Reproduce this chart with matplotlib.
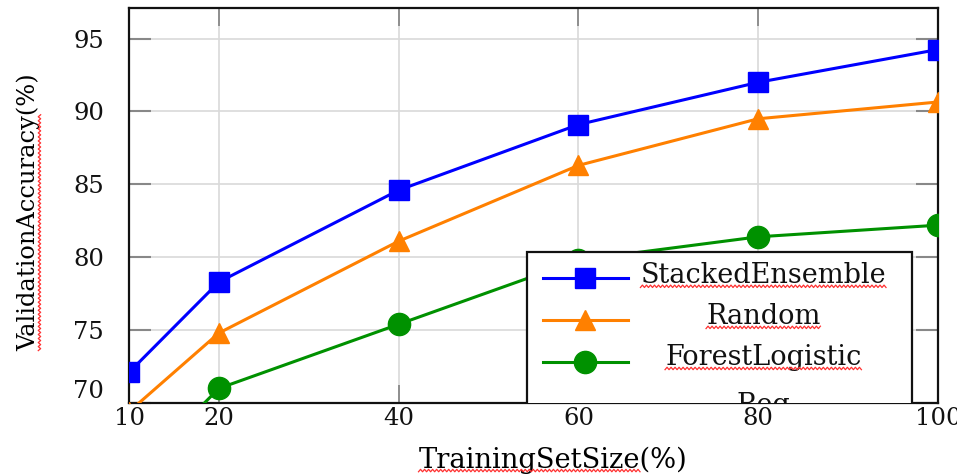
import numpy as np
import matplotlib
matplotlib.use('Agg')
import matplotlib.pyplot as plt
from matplotlib.patches import Rectangle
from matplotlib.lines import Line2D
from matplotlib.transforms import IdentityTransform

# Data
train_size = [10, 20, 40, 60, 80, 100]
stacked_ensemble = [72.1, 78.3, 84.6, 89.1, 92.0, 94.25]
random_forest = [69.4, 74.8, 81.1, 86.3, 89.5, 90.65]
logistic_reg = [64.8, 71.0, 75.4, 79.8, 81.4, 82.2]

x_ticks = [10, 20, 40, 60, 80, 100]
y_ticks = [70, 75, 80, 85, 90, 95]
legend_labels = ['StackedEnsemble', 'Random', 'ForestLogistic', 'Reg']

plt.rcParams['font.family'] = ['DejaVu Serif']
plt.rcParams['text.color'] = '#111111'

fig = plt.figure(figsize=(9.57, 4.75), dpi=100)
ax = fig.add_axes([0.1348, 0.1516, 0.8453, 0.8316])

series = [
    (stacked_ensemble, '#0000ff', 's', 15),
    (random_forest, '#ff8000', '^', 15),
    (logistic_reg, '#009100', 'o', 16),
]
for vals, color, marker, ms in series:
    ax.plot(train_size, vals, color=color, marker=marker, markersize=ms, lw=2.2, zorder=3)

ax.set_xlim(10, 100)
ax.set_ylim(70, 97.1)
ax.set_xticks(x_ticks)
ax.set_yticks(y_ticks)
ax.grid(True, color='#d9d9d9', lw=1.2, zorder=0)
ax.set_axisbelow(True)
ax.tick_params(axis='both', direction='in', labelsize=17.5, colors='#888888',
               labelcolor='#111111', width=1.5)
ax.tick_params(axis='y', length=16, pad=18, right=True)
ax.tick_params(axis='x', length=13, pad=3, top=True, width=1.3)
for sp in ax.spines.values():
    sp.set_linewidth(1.6)
    sp.set_color('#111111')
# the lowest y label sits above its tick
ax.get_yticklabels()[0].set_verticalalignment('bottom')

ax.set_xlabel('TrainingSetSize(%)', fontsize=19.7, va='center')
ax.set_ylabel('ValidationAccuracy(%)', fontsize=17.4, va='center')
ax.xaxis.set_label_coords(0.524, -0.144)
ax.yaxis.set_label_coords(-0.124, 0.484)

# legend box (spills below the plot and is cut by the axes)
box = Rectangle((0.492, -0.2), 0.476, 0.582, transform=ax.transAxes,
                facecolor='white', edgecolor='#111111', lw=1.6, zorder=5, clip_on=True)
ax.add_patch(box)
row_y = [0.316, 0.210, 0.104]
for (vals, color, marker, ms), y in zip(series, row_y):
    ax.plot([0.512, 0.564, 0.617], [y, y, y], transform=ax.transAxes, color=color,
            marker=marker, markersize=ms, markevery=[1], lw=2.2, zorder=6, clip_on=False)
text_y = [0.322, 0.218, 0.114, -0.006]
legend_texts = []
for lab, y in zip(legend_labels, text_y):
    t = ax.text(0.784, y, lab, transform=ax.transAxes, fontsize=19.5, ha='center',
                va='center', zorder=7)
    t.set_clip_path(None)
    t.set_clip_box(ax.bbox)
    t.set_clip_on(True)
    legend_texts.append(t)

fig.canvas.draw()
renderer = fig.canvas.get_renderer()


def squiggle(x0, x1, y, vertical=False):
    n = max(int(abs(x1 - x0) / 2), 2)
    s = np.linspace(x0, x1, n + 1)
    w = np.where(np.arange(n + 1) % 2 == 0, -1.2, 1.2)
    if vertical:
        fig.add_artist(Line2D(y + w, s, transform=IdentityTransform(), color='#ff3030', lw=0.9))
    else:
        fig.add_artist(Line2D(s, y + w, transform=IdentityTransform(), color='#ff3030', lw=0.9))


def tail_width(text_obj, tail):
    tmp = fig.text(0, 0, tail, fontsize=text_obj.get_fontsize())
    w = tmp.get_window_extent(renderer).width
    tmp.remove()
    return w


xl = ax.xaxis.label.get_window_extent(renderer)
squiggle(xl.x0, xl.x1 - tail_width(ax.xaxis.label, '(%)'), xl.y0 + 3)
yl = ax.yaxis.label.get_window_extent(renderer)
squiggle(yl.y0, yl.y1 - tail_width(ax.yaxis.label, '(%)'), yl.x1 - 1, vertical=True)
for t in legend_texts[:3]:
    bb = t.get_window_extent(renderer)
    squiggle(bb.x0, bb.x1, bb.y0 + 3)

fig.savefig('out.png', dpi=100)
